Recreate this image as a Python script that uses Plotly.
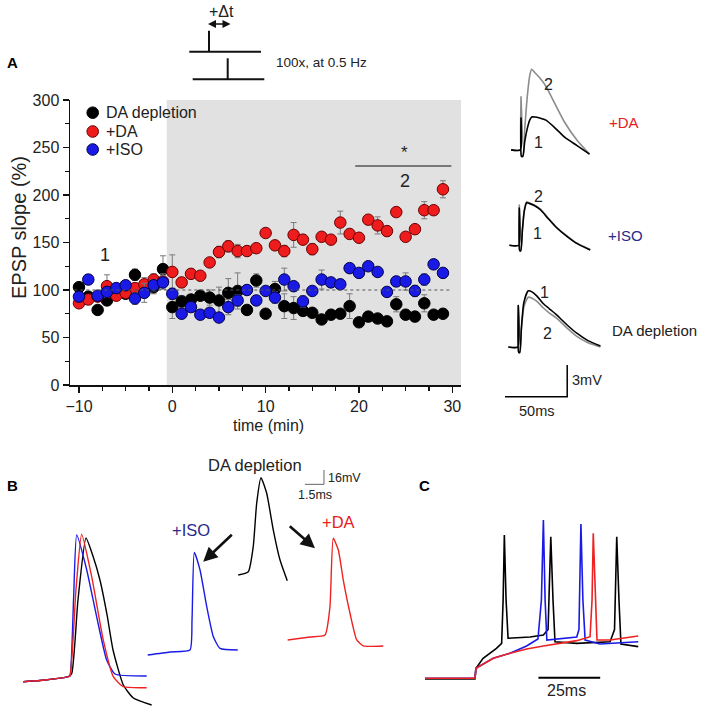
import plotly.graph_objects as go

W, H = 708, 712
FONT = "Arial, Liberation Sans, Helvetica, sans-serif"

def PX(x):
    return x / W

def PY(y):
    return 1 - y / H

# ---------------- Panel A: EPSP slope time course ----------------
time_min = list(range(-10, 30))

da_depletion = [103, 93, 79, 89, 98, 96, 116, 104, 103, 122,
                82, 88, 90, 94, 92, 89, 97, 99, 79, 110,
                75, 101, 83, 81, 78, 76, 69, 74, 75, 83,
                66, 72, 70, 67, 85, 74, 72, 86, 74, 75]
da_depletion_err = [4, 5, 4, 5, 4, 5, 6, 6, 7, 14,
                    12, 6, 5, 5, 8, 14, 15, 19, 4, 7,
                    4, 8, 13, 12, 5, 4, 4, 5, 4, 13,
                    4, 4, 4, 4, 8, 5, 5, 9, 4, 4]

plus_da = [86, 90, 93, 104, 94, 97, 102, 106, 111, 109,
           119, 108, 117, 115, 129, 140, 146, 141, 141, 144,
           160, 147, 141, 158, 153, 143, 156, 153, 171, 159,
           155, 174, 168, 162, 182, 156, 164, 184, 184, 206]
plus_da_err = [4, 5, 4, 12, 4, 5, 5, 7, 6, 8,
               18, 5, 4, 4, 4, 6, 6, 7, 5, 5,
               4, 4, 6, 13, 5, 6, 4, 4, 12, 5,
               4, 4, 9, 5, 3, 4, 4, 9, 5, 9]

plus_iso = [93, 111, 94, 98, 102, 105, 91, 97, 105, 108,
            96, 75, 82, 74, 76, 71, 82, 89, 100, 89,
            99, 92, 111, 104, 88, 99, 111, 108, 106, 123,
            118, 125, 119, 98, 109, 109, 99, 111, 127, 118]
plus_iso_err = [4, 5, 4, 5, 4, 5, 6, 10, 6, 7,
                6, 5, 4, 5, 4, 4, 8, 6, 5, 5,
                4, 6, 12, 5, 6, 4, 10, 5, 4, 5,
                4, 4, 4, 4, 5, 9, 6, 6, 4, 5]

series_names = ["DA depletion", "+DA", "+ISO"]
x_ticks = [-10, 0, 10, 20, 30]
y_ticks = [0, 50, 100, 150, 200, 250, 300]

# ---------------- Panel A inset: EPSP traces (ms, mV) ----------------
t_da = [-8, -0.5, 0, 0.3, 1.5, 3, 5, 7, 8.6, 11, 15, 20, 27, 35, 45, 55]
da_trace2 = [0, 0, 5.0, -0.6, -0.6, 2.0, 5.0, 7.0, 7.6, 7.3, 6.8, 6.0, 4.4, 2.6, 0.9, -0.4]
da_trace1 = [0, 0, 3.0, -0.6, -0.6, 0.8, 2.0, 2.8, 3.1, 3.1, 3.0, 2.8, 2.1, 1.2, 0.4, -0.4]

t_iso = [-8, -0.5, 0, 0.3, 1.2, 2.5, 4, 5.9, 8, 12, 17, 23, 30, 37, 45, 57]
iso_trace2 = [0, 0, 3.8, -0.5, -0.5, 1.5, 3.3, 4.1, 4.0, 3.8, 3.4, 2.6, 1.7, 1.0, 0.3, -0.4]
iso_trace1 = [0, 0, 3.5, -0.5, -0.5, 1.4, 3.2, 4.0, 3.95, 3.75, 3.35, 2.55, 1.65, 0.95, 0.25, -0.45]

t_dd = [-8, -0.5, 0, 0.3, 1.2, 2.5, 4.5, 8, 11, 15, 20, 25, 31, 39, 47, 56, 66]
dd_trace1 = [0, 0, 3.9, -0.5, -0.5, 1.8, 4.2, 5.3, 5.2, 4.8, 4.1, 3.6, 3.0, 2.1, 1.3, 0.6, 0.1]
dd_trace2 = [0, 0, 3.9, -0.5, -0.5, 1.6, 3.8, 4.7, 4.6, 4.3, 3.7, 3.2, 2.7, 1.8, 1.0, 0.4, 0.0]

# placement of each pair inside the inset (stim time ms, baseline mV)
inset_place = {"da": (20.9, 23.6), "iso": (19.5, 14.6), "dd": (18.7, 5.0)}
inset_scale_ms = 50
inset_scale_mv = 3

# ---------------- Panel B: spike waveforms (ms, mV) ----------------
b_black_t = [1.83, 3.54, 5.38, 5.65, 6.14, 6.77, 7.32, 7.87, 8.43, 8.90, 9.71, 10.50, 11.94]
b_black_v = [33.8, 35.7, 39.4, 43.1, 125, 194.2, 174.1, 147.3, 108.3, 69.2, 30.1, 15.6, 7.8]
b_blue_t = [1.83, 3.54, 5.38, 5.51, 5.79, 6.04, 6.83, 7.61, 8.40, 9.06, 11.55]
b_blue_v = [33.8, 35.7, 39.4, 40.2, 125, 197.5, 158.5, 106.4, 58.0, 42.4, 40.2]
b_red_t = [1.83, 3.54, 5.38, 5.51, 5.98, 6.43, 7.22, 8.13, 8.92, 9.71, 11.55]
b_red_v = [33.8, 35.7, 39.4, 40.2, 136.2, 198.3, 151, 80.4, 39.4, 28.2, 27.1]

b_iso_t = [11.63, 13.39, 14.96, 15.12, 15.30, 15.75, 16.28, 16.80, 17.32, 18.72]
b_iso_v = [63.6, 67, 69.2, 102.7, 178.2, 158.5, 117.5, 84, 71.1, 69.2]
b_dd_t = [18.76, 19.55, 19.94, 20.21, 20.55, 21.0, 21.52, 22.05, 22.62]
b_dd_v = [152.9, 156.6, 184.5, 232.9, 261.5, 244.1, 203.1, 169.6, 146.5]
b_da_t = [22.65, 24.41, 25.59, 25.98, 26.24, 26.64, 27.03, 27.56, 28.09, 28.61, 30.18]
b_da_v = [80.4, 83.7, 85.9, 117.5, 193.9, 180.8, 147.3, 110.2, 80.4, 73.7, 73.7]
b_scale_ms, b_scale_mv = 1.5, 16
b_scale_at = (25.51, 254.1)

# ---------------- Panel C: spike trains (ms, mV) ----------------
c_black_t = [6.07, 26.3, 26.7, 29.6, 35.0, 37.1, 37.7, 38.2, 38.9, 39.7, 48.6, 54.0, 55.9,
             57.0, 57.9, 58.7, 67.5, 81.0, 82.8, 83.7, 84.6, 85.4, 92.4]
c_black_v = [-80.5, -80.5, -73.3, -66.7, -60.0, -56.7, -27.8, 15.5, -27.8, -53.3, -52.5, -51.1, -47.5,
             14.4, -27.8, -55.6, -56.7, -55.6, -47.5, 14.4, -27.8, -57.1, -58.9]
c_blue_t = [6.07, 26.3, 26.7, 33.7, 40.5, 47.2, 51.8, 53.2, 54.0, 54.7, 55.4, 60.7, 67.5,
            68.4, 69.2, 70.0, 70.9, 76.9, 92.4]
c_blue_v = [-80, -80, -73.3, -66.7, -63.3, -58.5, -53.8, -27.8, 25.5, -27.8, -54.5, -53.8, -52.5,
            -47.5, 22.9, -27.8, -54.5, -57.1, -55.6]
c_red_t = [6.07, 26.3, 26.7, 33.7, 40.5, 47.2, 54.0, 60.7, 67.5, 72.9, 73.7, 74.2, 74.9,
           75.7, 81.0, 92.4]
c_red_v = [-80, -80, -73.3, -66.7, -63.3, -60.5, -58.5, -56.7, -54.9, -52.3, -27.8, 16.7, -14.5,
           -54.5, -54.5, -51.8]
c_scale_ms = 25
c_scale_at = (52.0, -79.6)

# ================= build figure =================
fig = go.Figure()

RED = "#ee1c1c"
BLUE = "#1a1ae6"
ERR = "#7a7a7a"
colors = ["#000000", RED, BLUE]
edges = ["#000000", "#6a0000", "#00004a"]

series = [
    (series_names[0], da_depletion, da_depletion_err),
    (series_names[1], plus_da, plus_da_err),
    (series_names[2], plus_iso, plus_iso_err),
]
for i, (name, vals, err) in enumerate(series):
    fig.add_trace(go.Scatter(
        x=time_min, y=vals, mode="markers", name=name, showlegend=False,
        error_y=dict(type="data", array=err, color=ERR, thickness=1, width=3),
        marker=dict(size=11.5, color=colors[i], line=dict(color=edges[i], width=1)),
        xaxis="x", yaxis="y", cliponaxis=False,
    ))

# dotted 100% line
fig.add_trace(go.Scatter(x=[-10.5, 30], y=[100, 100], mode="lines",
                         line=dict(color="#555555", width=1, dash="dot"),
                         showlegend=False, hoverinfo="skip", xaxis="x", yaxis="y"))
# significance bar
fig.add_trace(go.Scatter(x=[19.6, 29.9], y=[230.5, 230.5], mode="lines",
                         line=dict(color="#555555", width=1.5),
                         showlegend=False, hoverinfo="skip", xaxis="x", yaxis="y"))

# inset traces
GRAY = "#8c8c8c"
for key, t, tr2, tr1 in [("da", t_da, da_trace2, da_trace1),
                         ("iso", t_iso, iso_trace2, iso_trace1),
                         ("dd", t_dd, dd_trace2, dd_trace1)]:
    t0, v0 = inset_place[key]
    fig.add_trace(go.Scatter(x=[t0 + a for a in t], y=[v0 + b for b in tr2], mode="lines",
                             line=dict(color=GRAY, width=1.6, shape="spline", smoothing=0.6),
                             showlegend=False, hoverinfo="skip", xaxis="x2", yaxis="y2"))
    fig.add_trace(go.Scatter(x=[t0 + a for a in t], y=[v0 + b for b in tr1], mode="lines",
                             line=dict(color="#000000", width=1.6, shape="spline", smoothing=0.6),
                             showlegend=False, hoverinfo="skip", xaxis="x2", yaxis="y2"))
# inset scale bar
sx0, sy0 = 8.0, 0.31
fig.add_trace(go.Scatter(x=[sx0, sx0 + inset_scale_ms, sx0 + inset_scale_ms],
                         y=[sy0, sy0, sy0 + inset_scale_mv], mode="lines",
                         line=dict(color="#000000", width=1.5),
                         showlegend=False, hoverinfo="skip", xaxis="x2", yaxis="y2"))

# panel B traces
for tt, vv, col in [(b_black_t, b_black_v, "#000000"), (b_blue_t, b_blue_v, "#1a1ae6"),
                    (b_red_t, b_red_v, "#ee2222"), (b_iso_t, b_iso_v, "#1a1ae6"),
                    (b_dd_t, b_dd_v, "#000000"), (b_da_t, b_da_v, "#ee2222")]:
    fig.add_trace(go.Scatter(x=tt, y=vv, mode="lines",
                             line=dict(color=col, width=1.4, shape="spline", smoothing=0.5),
                             showlegend=False, hoverinfo="skip", xaxis="x3", yaxis="y3"))
bx, by = b_scale_at
fig.add_trace(go.Scatter(x=[bx - b_scale_ms, bx, bx], y=[by, by, by + b_scale_mv], mode="lines",
                         line=dict(color="#666666", width=1),
                         showlegend=False, hoverinfo="skip", xaxis="x3", yaxis="y3"))

# panel C traces
for tt, vv, col in [(c_black_t, c_black_v, "#000000"), (c_blue_t, c_blue_v, "#1a1ae6"),
                    (c_red_t, c_red_v, "#ee2222")]:
    fig.add_trace(go.Scatter(x=tt, y=vv, mode="lines",
                             line=dict(color=col, width=1.6),
                             showlegend=False, hoverinfo="skip", xaxis="x4", yaxis="y4"))
cx, cy = c_scale_at
fig.add_trace(go.Scatter(x=[cx, cx + c_scale_ms], y=[cy, cy], mode="lines",
                         line=dict(color="#000000", width=2),
                         showlegend=False, hoverinfo="skip", xaxis="x4", yaxis="y4"))

# ---------------- layout ----------------
main_xr = [(70 - 172.3) / 9.333, (461 - 172.3) / 9.333]
axis_font = dict(family=FONT, size=16, color="#222222")

shapes = [
    dict(type="rect", xref="x", yref="y", x0=-0.6, x1=main_xr[1], y0=0, y1=300,
         fillcolor="#e1e1e1", line=dict(width=0), layer="below"),
]
# stimulation diagram
for (x0, y0, x1, y1) in [(209, 30.7, 209, 51.7), (189.3, 51.7, 261, 51.7),
                         (227.7, 58.3, 227.7, 79.3), (192.7, 79.3, 264.3, 79.3)]:
    shapes.append(dict(type="line", xref="paper", yref="paper",
                       x0=PX(x0), y0=PY(y0), x1=PX(x1), y1=PY(y1),
                       line=dict(color="#111111", width=2)))

def txt(x, y, s, size=16, color="#222222", xanchor="center", bold=False, ref=None, angle=0):
    d = dict(text=("<b>%s</b>" % s) if bold else s, showarrow=False,
             font=dict(family=FONT, size=size, color=color),
             xanchor=xanchor, yanchor="middle", textangle=angle, borderpad=0)
    if ref is None:
        d.update(xref="paper", yref="paper", x=PX(x), y=PY(y))
    else:
        d.update(xref=ref[0], yref=ref[1], x=x, y=y)
    return d

annotations = [
    txt(12, 62, "A", 15, "#000000", bold=True),
    txt(12, 485, "B", 15, "#000000", bold=True),
    txt(424, 485, "C", 15, "#000000", bold=True),
    txt(221, 11, "+Δt", 16),
    txt(275, 62, "100x, at 0.5 Hz", 13.5, xanchor="left"),
    txt(19, 228, "EPSP slope (%)", 20, angle=-90),
    txt(-7.2, 137, "1", 18, ref=("x", "y")),
    txt(24.9, 245, "*", 17, ref=("x", "y")),
    txt(24.9, 215, "2", 18, ref=("x", "y")),
    txt(268, 425, "time (min)", 16),
    # inset labels
    txt(548, 85, "2", 16),
    txt(538, 142, "1", 16),
    txt(538, 196, "2", 16),
    txt(537, 233, "1", 16),
    txt(544, 293, "1", 16),
    txt(547, 333, "2", 16),
    txt(624, 123, "+DA", 15, "#e52020"),
    txt(625, 235, "+ISO", 15, "#2a2a8a"),
    txt(611, 330, "DA depletion", 15, "#222222", xanchor="left"),
    txt(571, 380, "3mV", 14.5, xanchor="left"),
    txt(536, 411, "50ms", 14.5),
    # panel B labels
    txt(255, 465, "DA depletion", 16.5),
    txt(191, 530, "+ISO", 16.5, "#2a2a8a"),
    txt(338, 522, "+DA", 16.5, "#e52020"),
    txt(327, 478, "16mV", 12.5, xanchor="left"),
    txt(315, 495, "1.5ms", 12.5),
    # panel C
    txt(566, 690, "25ms", 16),
    # double arrow for +Δt
    dict(xref="paper", yref="paper", x=PX(208), y=PY(24), ax=24, ay=0,
         text="", showarrow=True, arrowhead=2, arrowside="end+start",
         arrowsize=1, arrowwidth=1.6, arrowcolor="#111111"),
    # panel B arrows
    dict(xref="x3", yref="y3", axref="x3", ayref="y3", x=16.0, y=167.7, ax=18.37, ay=199.4,
         text="", showarrow=True, arrowhead=2, arrowsize=1.1, arrowwidth=2.6, arrowcolor="#111111"),
    dict(xref="x3", yref="y3", axref="x3", ayref="y3", x=24.8, y=182.7, ax=22.7, ay=208.7,
         text="", showarrow=True, arrowhead=2, arrowsize=1.1, arrowwidth=2.6, arrowcolor="#111111"),
]

# hand-placed legend (symbol + label)
legend_rows = [112.7, 131.5, 149.5]
for i, name in enumerate(series_names):
    yc = legend_rows[i]
    shapes.append(dict(type="circle", xref="paper", yref="paper",
                       x0=PX(92.7 - 5.8), x1=PX(92.7 + 5.8), y0=PY(yc + 5.8), y1=PY(yc - 5.8),
                       fillcolor=colors[i], line=dict(color=edges[i], width=1)))
    annotations.append(txt(105, yc, name, 16, xanchor="left"))

hidden = dict(visible=False, fixedrange=True, automargin=False)

fig.update_layout(
    width=W, height=H, autosize=False,
    margin=dict(l=0, r=0, t=0, b=0, pad=0, autoexpand=False),
    paper_bgcolor="white", plot_bgcolor="rgba(0,0,0,0)",
    font=dict(family=FONT, size=16, color="#222222"),
    showlegend=False,
    xaxis=dict(domain=[PX(70), PX(461)], range=main_xr, anchor="y", automargin=False,
               tickvals=x_ticks, ticks="outside", ticklen=6, tickwidth=1.3, tickcolor="#111111",
               showline=True, linecolor="#111111", linewidth=1.5, showgrid=False, zeroline=False,
               tickfont=axis_font,
               minor=dict(dtick=2.5, tick0=0, ticks="outside", ticklen=4, tickcolor="#111111", showgrid=False)),
    yaxis=dict(domain=[PY(385), PY(100)], range=[0, 300], anchor="x", automargin=False,
               tickvals=y_ticks, ticks="outside", ticklen=6, tickwidth=1.3, tickcolor="#111111",
               showline=True, linecolor="#111111", linewidth=1.5, showgrid=False, zeroline=False,
               tickfont=axis_font,
               minor=dict(dtick=25, tick0=0, ticks="outside", ticklen=4, tickcolor="#111111", showgrid=False)),
    xaxis2=dict(domain=[PX(495), 1], range=[0, 213 / 1.245], anchor="y2", **hidden),
    yaxis2=dict(domain=[PY(400), PY(60)], range=[0, 340 / 10.6], anchor="x2", **hidden),
    xaxis3=dict(domain=[0, PX(400)], range=[0, 400 / 12.7], anchor="y3", **hidden),
    yaxis3=dict(domain=[0, PY(440)], range=[0, 272 / 0.896], anchor="x3", **hidden),
    xaxis4=dict(domain=[PX(410), 1], range=[0, 298 / 2.47], anchor="y4", **hidden),
    yaxis4=dict(domain=[0, PY(440)], range=[-102.47, 78.87], anchor="x4", **hidden),
    shapes=shapes,
    annotations=annotations,
    hovermode=False,
)

fig.write_html("out.html",
               config={"displayModeBar": False, "staticPlot": True},
               post_script="document.body.style.margin='0';document.body.style.overflow='hidden';")
